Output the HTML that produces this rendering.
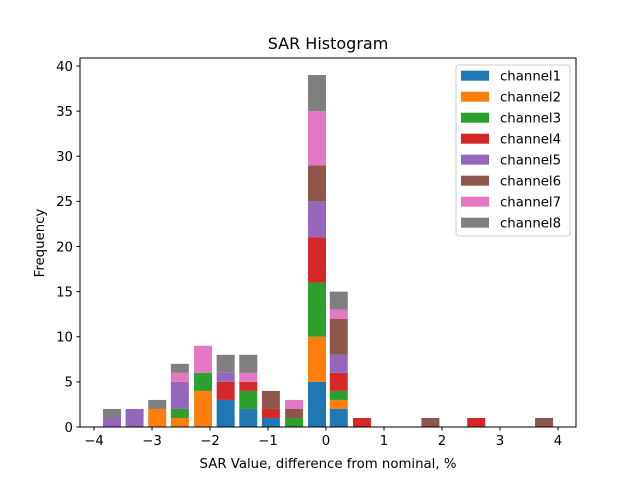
<!DOCTYPE html>
<html><head><meta charset="utf-8"><style>
body{margin:0;background:#fff;font-family:"Liberation Sans","DejaVu Sans",sans-serif}
</style></head><body>
<svg id="c" width="640" height="480" xmlns="http://www.w3.org/2000/svg" font-family="DejaVu Sans, Liberation Sans, sans-serif"></svg>
<script>
const binCenters=[-3.69,-3.30,-2.91,-2.52,-2.12,-1.73,-1.34,-0.95,-0.55,-0.155,0.22,0.62,1.80,2.59,3.76];
const channel1=[0,0,0,0,0,3,2,1,0,5,2,0,0,0,0];
const channel2=[0,0,2,1,4,0,0,0,0,5,1,0,0,0,0];
const channel3=[0,0,0,1,2,0,2,0,1,6,1,0,0,0,0];
const channel4=[0,0,0,0,0,2,1,1,0,5,2,1,0,1,0];
const channel5=[1,2,0,3,0,1,0,0,0,4,2,0,0,0,0];
const channel6=[0,0,0,0,0,0,0,2,1,4,4,0,1,0,1];
const channel7=[0,0,0,1,3,0,1,0,1,6,1,0,0,0,0];
const channel8=[1,0,1,1,0,2,2,0,0,4,2,0,0,0,0];
const seriesNames=["channel1","channel2","channel3","channel4","channel5","channel6","channel7","channel8"];
const xTicks=[-4,-3,-2,-1,0,1,2,3,4];
const yTicks=[0,5,10,15,20,25,30,35,40];
const series=[channel1,channel2,channel3,channel4,channel5,channel6,channel7,channel8];
const colors=["#1f77b4","#ff7f0e","#2ca02c","#d62728","#9467bd","#8c564b","#e377c2","#7f7f7f"];
const L=80,R=576,T=58,B=427;
const xs=v=>326+v*58;
const ys=v=>427-v*9.025;
const NS="http://www.w3.org/2000/svg";
const svg=document.getElementById('c');
function mk(t,a,txt){const e=document.createElementNS(NS,t);for(const k in a)e.setAttribute(k,a[k]);if(txt!==undefined)e.textContent=txt;svg.appendChild(e);return e;}
const bw=0.31*58;
binCenters.forEach((c,i)=>{let base=0;series.forEach((s,j)=>{const v=s[i];if(v>0){const r=mk('rect',{x:xs(c)-bw/2,y:ys(base+v),width:bw,height:ys(base)-ys(base+v),fill:colors[j]});

}base+=v;});});
const fr=mk('rect',{x:L,y:T,width:R-L,height:B-T,fill:'none',stroke:'#000','stroke-width':1});


xTicks.forEach(t=>{mk('line',{x1:xs(t),x2:xs(t),y1:B,y2:B+3.5,stroke:'#000'});const e=mk('text',{x:xs(t),y:B+18,'font-size':13.3,'text-anchor':'middle'},t<0?'\u2212'+(-t):String(t));

});
yTicks.forEach(t=>{mk('line',{x1:L-3.5,x2:L,y1:ys(t),y2:ys(t),stroke:'#000'});const e=mk('text',{x:L-7,y:ys(t)+4.8,'font-size':13.3,'text-anchor':'end'},String(t));

});
let e=mk('text',{x:328,y:49,'font-size':16,'text-anchor':'middle'},'SAR Histogram');


e=mk('text',{x:328,y:468,'font-size':13.3,'text-anchor':'middle'},'SAR Value, difference from nominal, %');


e=mk('text',{x:44,y:243,'font-size':13.3,'text-anchor':'middle',transform:'rotate(-90 44 243)'},'Frequency');


const lg=mk('rect',{x:456,y:65,width:114,height:171,rx:3,fill:'#fff','fill-opacity':0.8,stroke:'#ccc'});


seriesNames.forEach((n,j)=>{const y=75.7+j*21;mk('rect',{x:461,y:y-5,width:28,height:10,fill:colors[j]});const t=mk('text',{x:500,y:y+5,'font-size':13.3},n);

});
</script>
</body></html>
